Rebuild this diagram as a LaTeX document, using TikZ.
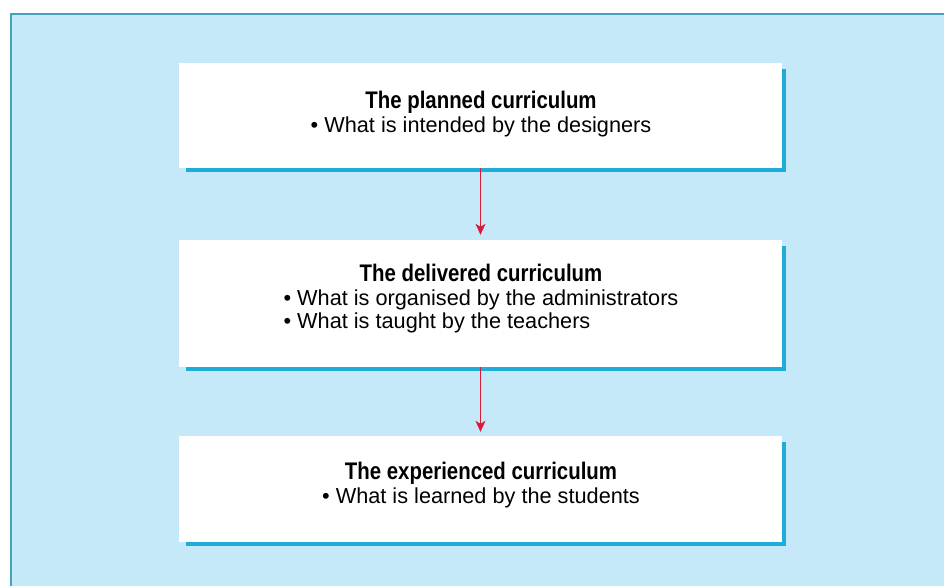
\documentclass[tikz,border=0pt]{standalone}
\usepackage{fontspec}
\setmainfont{Liberation Sans}
\newfontfamily\headfont[FakeStretch=0.85]{Liberation Sans}
\usetikzlibrary{arrows.meta,backgrounds}

\definecolor{panelblue}{RGB}{197,233,248}
\definecolor{panelline}{RGB}{72,160,190}
\definecolor{shadowcyan}{RGB}{32,172,216}
\definecolor{arrowred}{RGB}{214,28,58}

\newcommand{\stagetitle}[1]{{\headfont\bfseries\fontsize{24}{23.5}\selectfont #1}}

\begin{document}
\begin{tikzpicture}[x=1pt,y=-1pt,
  stagebox/.style={fill=white,draw=none,minimum width=603pt,inner sep=0pt,minimum height=#1},
  stagetext/.style={align=center,inner sep=0pt,font=\fontsize{21.7}{23.5}\selectfont},
  flow/.style={draw=arrowred,line width=1.2pt,-{Stealth[length=11pt,width=10pt,inset=3pt]}},
  boxshadow/.style={fill=shadowcyan}]
  \useasboundingbox (0,0) rectangle (944,586);

  % the three stages of the curriculum
  \node[stagebox=105pt] (b1) at (480.5,115.5) {};
  \node[stagebox=127pt] (b2) at (480.5,303.5) {};
  \node[stagebox=106pt] (b3) at (480.5,489) {};

  \node[stagetext] (t1) at (481,114) {%
    \stagetitle{The planned curriculum}\\
    • What is intended by the designers};
  \node[stagetext] (t2) at (481,300) {%
    \stagetitle{The delivered curriculum}\\
    \begin{tabular}[t]{@{}l@{}}
      • What is organised by the administrators\\
      • What is taught by the teachers
    \end{tabular}};
  \node[stagetext] (t3) at (481,485) {%
    \stagetitle{The experienced curriculum}\\
    • What is learned by the students};

  % arrows between the stages
  \draw[flow] (b1.south) -- ([yshift=5pt]b2.north);
  \draw[flow] (b2.south) -- ([yshift=4pt]b3.north);

  % panel and drop shadows behind the boxes
  \begin{scope}[on background layer]
    \fill[panelblue] (11,14) rectangle (944,586);
    \draw[panelline,line width=2pt] (11,586) -- (11,14) -- (944,14);
    \foreach \b in {b1,b2,b3}{
      \fill[boxshadow] ([xshift=7pt,yshift=-4pt]\b.south west)
        rectangle ([xshift=3.5pt,yshift=-6pt]\b.north east);
    }
  \end{scope}
\end{tikzpicture}
\end{document}
